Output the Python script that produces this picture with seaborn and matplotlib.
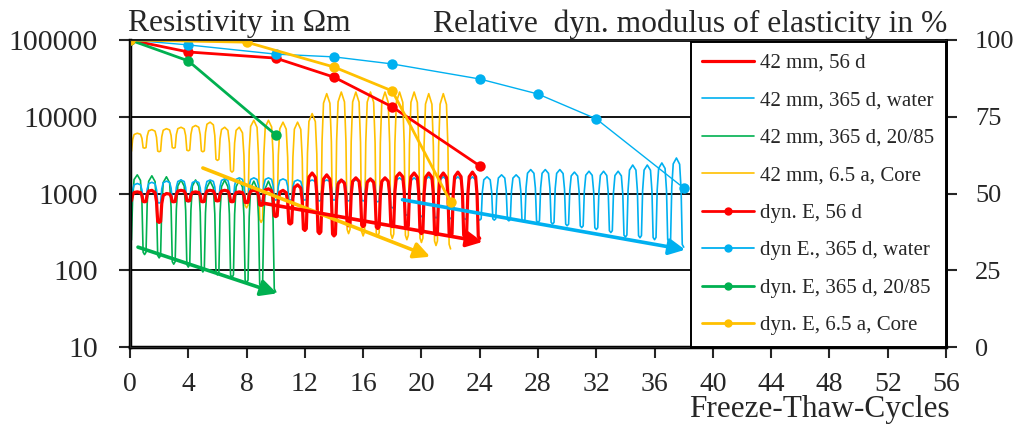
import numpy as np
import pandas as pd
import matplotlib
matplotlib.use("Agg")
import matplotlib.pyplot as plt
import matplotlib.ticker as mticker
from matplotlib.lines import Line2D
import seaborn as sns

# Resistivity in Ohm m, read per freeze-thaw cycle:
# *_low = trough at start of cycle k, *_peak = peak in the middle of cycle k
res_56d_peak = [1050, 1100, 1000, 1100, 1050, 1100, 1100, 1050, 1100, 1150, 1100, 1300,
                1850, 1750, 1500, 1600, 1550, 1600, 1850, 1850, 1850, 1850, 1900, 1900]
res_56d_low = [800, 780, 420, 780, 800, 780, 800, 780, 760, 700, 500, 400, 330,
               300, 280, 380, 370, 350, 370, 360, 300, 290, 280, 270, 260]

res_water_peak = [1350, 1400, 1450, 1500, 1450, 1500, 1550, 1600, 1600, 1600,
                  1550, 1500, 1500, 1500, 1500, 1500, 1550, 1550,
                  1600, 1600, 1650, 1650, 1650, 1650,
                  1650, 1750, 1750, 2050, 2050, 2050,
                  1900, 1950, 1950, 1950, 2350, 2350, 2500, 2900]
res_water_low = [760, 780, 750, 800, 780, 800, 820, 820, 800, 800,
                 820, 820, 820, 800, 820, 800, 800, 780,
                 650, 520, 500, 480, 470, 460, 450, 450, 440, 430, 420, 400,
                 380, 360, 340, 310, 270, 265, 250, 235, 200]

res_2085_peak = [1750, 1700, 1650, 1500, 1500, 1450, 1500, 1500, 1450, 1450]
res_2085_low = [234, 160, 145, 120, 110, 95, 87, 80, 68, 60, 52]

res_core_peak = [6100, 6800, 7000, 7300, 7700, 8500, 7300, 7300, 9000, 9000, 8500,
                 8500, 11000, 20000, 21000, 21000, 21000, 21000, 21000, 21000, 20000, 20000]
res_core_low = [3500, 3900, 3500, 3900, 3600, 3500, 2700, 1900, 650, 420, 500, 420,
                380, 340, 320, 300, 280, 270, 260, 250, 230, 210, 190]

# Relative dynamic modulus of elasticity in %
dynE_56d_x = [0, 4, 10, 14, 18, 24]
dynE_56d = [100, 96.1, 94.1, 87.9, 78.2, 59.0]
dynE_water_x = [0, 4, 10, 14, 18, 24, 28, 32, 38]
dynE_water = [100, 98.4, 95.4, 94.5, 92.2, 87.3, 82.4, 74.3, 51.8]
dynE_2085_x = [0, 4, 10]
dynE_2085 = [100, 93.2, 69.1]
dynE_core_x = [0, 8, 14, 18, 22]
dynE_core = [100, 99.3, 91.2, 83.4, 47.2]

# trend arrows (cycle, resistivity) start -> end
arrow_2085 = [(0.55, 200), (10.1, 50)]
arrow_core = [(5.0, 2150), (20.6, 150)]
arrow_56d = [(9.1, 750), (24.2, 234)]
arrow_water = [(18.7, 830), (38.1, 185)]

RED = "#FF0000"
BLUE = "#00B0F0"
GREEN = "#00B050"
YELLOW = "#FFC000"

# shape of one freeze-thaw cycle (fraction of cycle, share of the way up in log space)
cyc_t = [0.0, 0.1, 0.18, 0.28, 0.5, 0.72, 0.82, 0.9]
cyc_s = [0.0, 0.03, 0.65, 0.93, 1.0, 0.93, 0.65, 0.03]


def wave(peaks, lows):
    xs, ys = [], []
    for k, hi in enumerate(peaks):
        lo_a, lo_b = lows[k], lows[k + 1]
        for t, s in zip(cyc_t, cyc_s):
            lo = lo_a if t < 0.5 else lo_b
            xs.append(k + t)
            ys.append(lo * (hi / lo) ** s)
    xs.append(len(peaks))
    ys.append(lows[-1])
    return pd.DataFrame({"cycle": xs, "res": ys})


sns.set_style("white")
plt.rcParams["font.family"] = ["Liberation Serif", "DejaVu Serif"]

fig = plt.figure(figsize=(10.19, 4.26), dpi=100)
ax = fig.add_axes([130 / 1019, 1 - 347 / 426, 816 / 1019, 307 / 426])

ax.set_yscale("log")
ax.set_ylim(10, 100000)
ax.set_xlim(0, 56)

for peaks, lows, col, lw in [(res_core_peak, res_core_low, YELLOW, 1.2),
                             (res_2085_peak, res_2085_low, GREEN, 1.2),
                             (res_water_peak, res_water_low, BLUE, 1.2),
                             (res_56d_peak, res_56d_low, RED, 2.3)]:
    d = wave(peaks, lows)
    sns.lineplot(data=d, x="cycle", y="res", ax=ax, color=col, lw=lw,
                 sort=False, estimator=None)

for (p0, p1), col in [(arrow_2085, GREEN), (arrow_core, YELLOW),
                      (arrow_56d, RED), (arrow_water, BLUE)]:
    ax.annotate("", xy=p1, xytext=p0,
                arrowprops=dict(arrowstyle="-|>", color=col, lw=2.6,
                                mutation_scale=24, shrinkA=0, shrinkB=0))

ax.set_xticks(np.arange(0, 57, 4))
ax.set_yticks([10, 100, 1000, 10000, 100000])
ax.yaxis.set_major_formatter(mticker.FuncFormatter(lambda v, p: f"{int(round(v))}"))
ax.yaxis.set_minor_locator(mticker.NullLocator())
ax.grid(False)
for v in [100, 1000, 10000]:
    ax.axhline(v, color="black", lw=1.3, zorder=0.5)
ax.tick_params(axis="y", which="major", direction="out", length=8, width=1.5,
               labelsize=21.5, pad=15, left=True)
ax.tick_params(axis="x", direction="out", length=8, width=1.5,
               labelsize=20, pad=10, bottom=True)
ax.set_xlabel("")
ax.set_ylabel("")
for side in ["left", "bottom"]:
    ax.spines[side].set_linewidth(2.5)
for side in ["top", "right"]:
    ax.spines[side].set_linewidth(2.0)
for sp in ax.spines.values():
    sp.set_color("black")

ax2 = ax.twinx()
ax2.set_ylim(0, 100)
for xv, yv, col, lw in [(dynE_56d_x, dynE_56d, RED, 2.0),
                        (dynE_water_x, dynE_water, BLUE, 1.0),
                        (dynE_2085_x, dynE_2085, GREEN, 2.0),
                        (dynE_core_x, dynE_core, YELLOW, 2.0)]:
    sns.lineplot(x=xv, y=yv, ax=ax2, color=col, lw=lw, marker="o",
                 markersize=7.5, markeredgewidth=0, sort=False, estimator=None)
ax2.set_yticks([0, 25, 50, 75, 100])
ax2.tick_params(axis="y", direction="out", length=8, width=1.5, labelsize=19,
                pad=13, right=True)
ax2.set_ylabel("")
ax2.spines["right"].set_linewidth(2.0)
ax2.spines["right"].set_color("black")

handles = [
    Line2D([], [], color=RED, lw=2.3),
    Line2D([], [], color=BLUE, lw=1.2),
    Line2D([], [], color=GREEN, lw=1.2),
    Line2D([], [], color=YELLOW, lw=1.2),
    Line2D([], [], color=RED, lw=2.0, marker="o", markersize=6, markeredgewidth=0),
    Line2D([], [], color=BLUE, lw=1.3, marker="o", markersize=6, markeredgewidth=0),
    Line2D([], [], color=GREEN, lw=2.0, marker="o", markersize=6, markeredgewidth=0),
    Line2D([], [], color=YELLOW, lw=2.0, marker="o", markersize=6, markeredgewidth=0),
]
labels = ["42 mm, 56 d", "42 mm, 365 d, water", "42 mm, 365 d, 20/85",
          "42 mm, 6.5 a, Core", "dyn. E, 56 d", "dyn E., 365 d, water",
          "dyn. E, 365 d, 20/85", "dyn. E, 6.5 a, Core"]
leg = ax2.legend(handles, labels, loc="upper right", bbox_to_anchor=(1.0, 0.994),
                 borderaxespad=0, fontsize=15, labelspacing=0.86, handlelength=2.5,
                 handletextpad=0.3, borderpad=0.55, fancybox=False, framealpha=1)
leg.get_frame().set_edgecolor("black")
leg.get_frame().set_linewidth(1.4)

fig.text(128 / 1019, 1 - 24 / 426, "Resistivity in Ωm", fontsize=22.7,
         ha="left", va="center")
fig.text(947 / 1019, 1 - 24 / 426, "Relative  dyn. modulus of elasticity in %",
         fontsize=22.7, ha="right", va="center")
fig.text(950 / 1019, 1 - 410 / 426, "Freeze-Thaw-Cycles", fontsize=22.5,
         ha="right", va="center")

fig.savefig("out.png", dpi=100)
